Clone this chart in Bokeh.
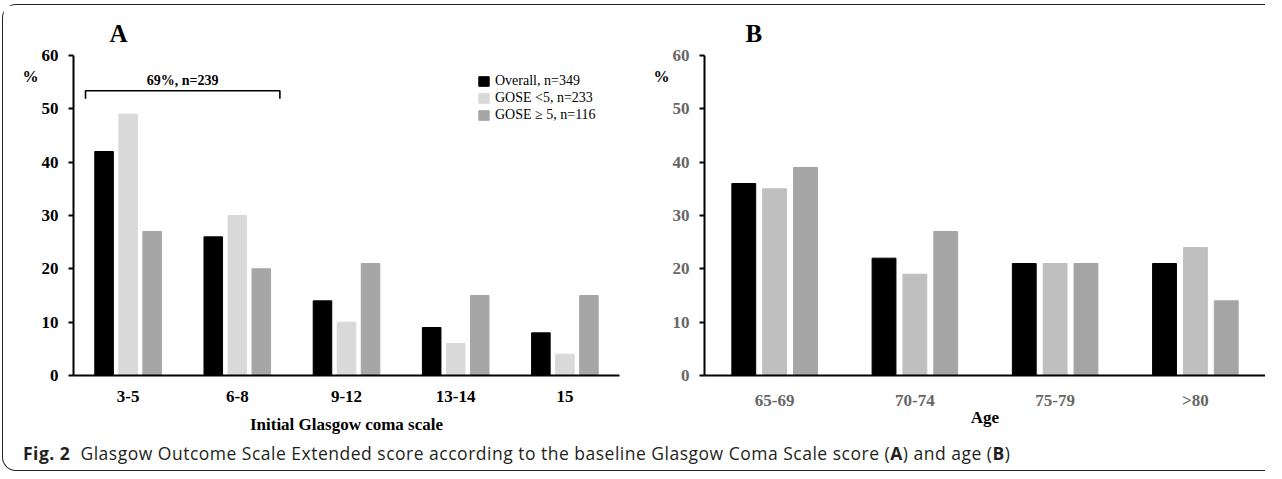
from bokeh.plotting import figure
from bokeh.models import (FactorRange, Range1d, FixedTicker, Label, Legend, LegendItem, Div,
                          ColumnDataSource, LinearAxis)
from bokeh.layouts import row, column
from bokeh.transform import dodge
from bokeh.embed import file_html
from bokeh.resources import INLINE

# ---------------- data ----------------
gcs_categories = ["3-5", "6-8", "9-12", "13-14", "15"]
gcs_overall = [42, 26, 14, 9, 8]
gcs_gose_lt5 = [49, 30, 10, 6, 4]
gcs_gose_ge5 = [27, 20, 21, 15, 15]

age_categories = ["65-69", "70-74", "75-79", ">80"]
age_overall = [36, 22, 21, 21]
age_gose_lt5 = [35, 19, 21, 24]
age_gose_ge5 = [39, 27, 21, 14]

series_labels = ["Overall, n=349", "GOSE <5, n=233", "GOSE \u2265 5, n=116"]
y_ticks = [0, 10, 20, 30, 40, 50, 60]
y_unit = "%"
bracket_label = "69%, n=239"
bracket_groups = ["3-5", "6-8"]

caption_html = ('<span style="font-weight:700">Fig.&nbsp;2</span>&nbsp; Glasgow Outcome Scale Extended score '
                'according to the baseline Glasgow Coma Scale score (<b>A</b>) and age (<b>B</b>)')

SERIF = "Liberation Serif"
BAR_W = 0.17
OFF = 0.22
UNIT_LEVEL = 56  # vertical level of the "%" unit mark, in axis units


def make_panel(cats, s1, s2, s3, colors, width, border_left, border_right, tick_color,
               xlabel, xlabel_standoff, panel_letter, letter_offset):
    src = ColumnDataSource(dict(cat=cats, s1=s1, s2=s2, s3=s3))
    p = figure(x_range=FactorRange(factors=cats), y_range=Range1d(0, 60),
               width=width, height=432, output_backend="svg", toolbar_location=None,
               min_border_left=border_left, min_border_right=border_right,
               min_border_top=50, min_border_bottom=62)
    p.outline_line_color = None
    p.xgrid.grid_line_color = None
    p.ygrid.grid_line_color = None

    p.title.text = panel_letter
    p.title.align = "left"
    p.title.offset = letter_offset
    p.title.standoff = 17
    p.title.text_font = SERIF
    p.title.text_font_style = "bold"
    p.title.text_font_size = "25px"
    p.title.text_color = "black"

    r1 = p.vbar(x=dodge("cat", -OFF, range=p.x_range), top="s1", width=BAR_W, source=src,
                fill_color=colors[0], line_color=colors[0])
    r2 = p.vbar(x=dodge("cat", 0.0, range=p.x_range), top="s2", width=BAR_W, source=src,
                fill_color=colors[1], line_color=colors[1])
    r3 = p.vbar(x=dodge("cat", OFF, range=p.x_range), top="s3", width=BAR_W, source=src,
                fill_color=colors[2], line_color=colors[2])

    ya = p.yaxis[0]
    ya.ticker = FixedTicker(ticks=y_ticks)
    ya.axis_line_width = 2
    ya.major_tick_line_width = 2
    ya.major_tick_out = 5
    ya.major_tick_in = 0
    ya.minor_tick_line_color = None
    ya.major_label_standoff = 10
    ya.major_label_text_font = SERIF
    ya.major_label_text_font_style = "bold"
    ya.major_label_text_font_size = "17px"
    ya.major_label_text_color = tick_color

    # "%" unit mark placed left of the tick labels, near the top of the axis
    unit_axis = LinearAxis(ticker=FixedTicker(ticks=[UNIT_LEVEL]),
                           major_label_overrides={UNIT_LEVEL: y_unit},
                           axis_line_color=None, major_tick_line_color=None,
                           minor_tick_line_color=None, major_tick_out=0, major_tick_in=0,
                           major_label_standoff=0,
                           major_label_text_font=SERIF, major_label_text_font_style="bold",
                           major_label_text_font_size="16px", major_label_text_color="black")
    p.add_layout(unit_axis, "left")

    xa = p.xaxis[0]
    xa.axis_line_width = 2
    xa.major_tick_line_color = None
    xa.minor_tick_line_color = None
    xa.major_tick_out = 0
    xa.major_tick_in = 0
    xa.major_label_standoff = 15
    xa.major_label_text_font = SERIF
    xa.major_label_text_font_style = "bold"
    xa.major_label_text_font_size = "17px"
    xa.major_label_text_color = tick_color
    xa.axis_label = xlabel
    xa.axis_label_standoff = xlabel_standoff
    xa.axis_label_text_font = SERIF
    xa.axis_label_text_font_style = "bold"
    xa.axis_label_text_font_size = "17px"
    xa.axis_label_text_color = "black"
    return p, (r1, r2, r3)


pA, rA = make_panel(gcs_categories, gcs_overall, gcs_gose_lt5, gcs_gose_ge5,
                    ["#000000", "#d9d9d9", "#a6a6a6"], 629, 70, 13, "black",
                    "Initial Glasgow coma scale", 10, "A", 36)

legend = Legend(items=[LegendItem(label=series_labels[i], renderers=[rA[i]]) for i in range(3)],
                location=(404, 252), orientation="vertical",
                glyph_width=13, glyph_height=12, label_height=17, spacing=0,
                label_standoff=5, padding=0, margin=0,
                border_line_color=None, background_fill_alpha=0,
                label_text_font=SERIF, label_text_font_size="14px",
                label_text_color="black")
pA.add_layout(legend, "center")

# bracket over first two groups
i0 = gcs_categories.index(bracket_groups[0])
i1 = gcs_categories.index(bracket_groups[1])
xl = i0 + 0.5 - OFF - BAR_W
xr = i1 + 0.5 + OFF + BAR_W
yb, yt = 51.9, 53.4
pA.line(x=[xl, xl, xr, xr], y=[yb, yt, yt, yb], line_color="black", line_width=1.6)
pA.add_layout(Label(x=(xl + xr) / 2, y=55.3, text=bracket_label, text_font=SERIF, text_font_style="bold",
                    text_font_size="14px", text_align="center", text_baseline="middle", text_color="black"))

pB, rB = make_panel(age_categories, age_overall, age_gose_lt5, age_gose_ge5,
                    ["#000000", "#bfbfbf", "#a5a5a5"], 633, 72, 0, "#666666",
                    "Age", -5, "B", 41)

caption = Div(text=caption_html, width=1250, height=23,
              styles={"font-family": "Open Sans", "font-size": "17.5px", "letter-spacing": "0.5px",
                      "color": "#231f20", "padding-left": "15px", "line-height": "23px",
                      "white-space": "nowrap"})

layout = column(row(pA, pB, spacing=0), caption, spacing=0, margin=(4, 0, 0, 2),
                styles={"border-top": "1.5px solid #222", "border-left": "1.5px solid #222",
                        "border-bottom": "1.5px solid #222",
                        "border-radius": "14px 0 0 14px"})

open("out.html", "w").write(file_html(layout, INLINE))
